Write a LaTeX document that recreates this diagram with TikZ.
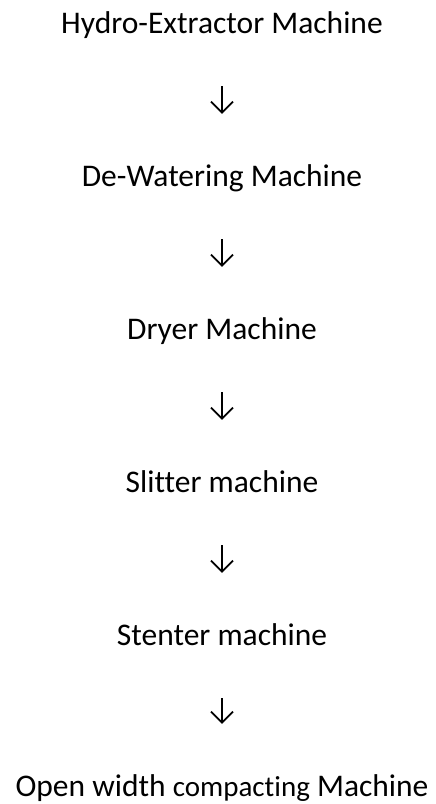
\documentclass[tikz,border=0pt]{standalone}
\usepackage{fontspec}
\setmainfont[Ligatures=CommonOff]{Carlito}
\usetikzlibrary{arrows.meta}

\begin{document}
\begin{tikzpicture}[x=1pt, y=-1pt,
    stage/.style={inner sep=0pt, anchor=base, text height=20pt, text depth=0pt,
        font=\fontsize{31.5}{38}\selectfont},
    flow/.style={line width=1.8pt, shorten <=53pt, shorten >=52pt,
        -{Straight Barb[length=11pt,width=22pt,line width=1.8pt]}}]

    \useasboundingbox (0,0) rectangle (436,804);

    \node[stage] (hydro)   at (222,33)  {Hydro-Extractor Machine};
    \node[stage] (dewater) at (222,186) {De-Watering Machine};
    \node[stage] (dryer)   at (222,339) {Dryer Machine};
    \node[stage] (slitter) at (222,492) {Slitter machine};
    \node[stage] (stenter) at (222,645) {Stenter machine};
    \node[stage] (compact) at (222,796)
        {Open width {\fontsize{29}{38}\selectfont compacting} Machine};

    \draw[flow] (hydro) -- (dewater);
    \draw[flow] (dewater) -- (dryer);
    \draw[flow] (dryer) -- (slitter);
    \draw[flow] (slitter) -- (stenter);
    \draw[flow] (stenter) -- (compact);
\end{tikzpicture}
\end{document}
